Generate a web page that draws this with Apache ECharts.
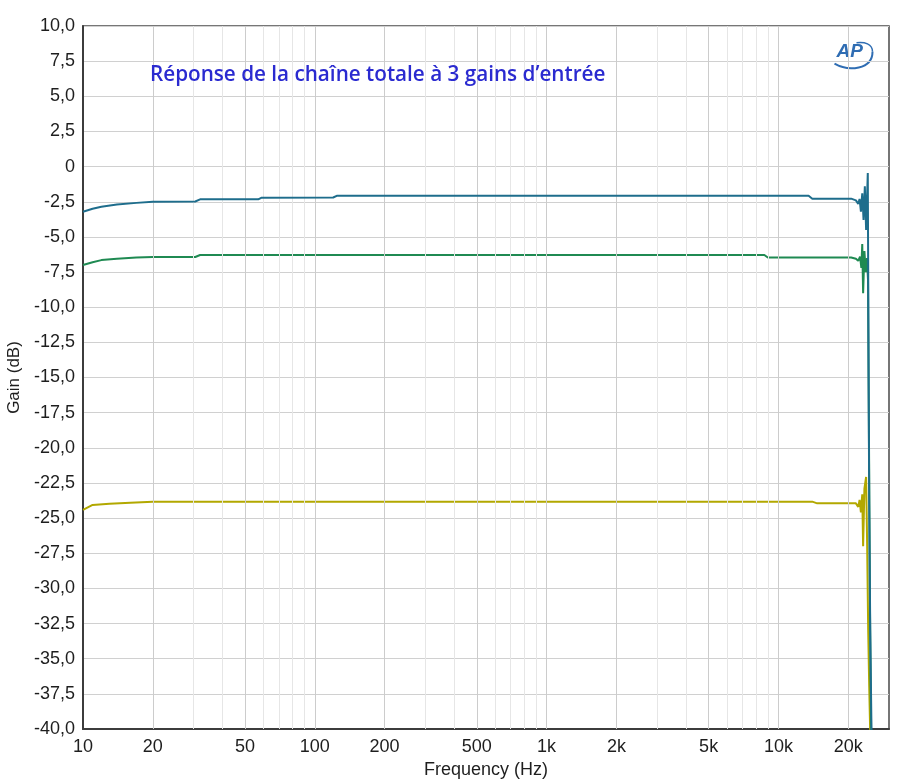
<!DOCTYPE html>
<html><head><meta charset="utf-8">
<script src="https://cdn.jsdelivr.net/npm/echarts@6/dist/echarts.min.js"></script>
<style>html,body{margin:0;padding:0;background:#fff}#c{width:900px;height:780px}</style>
</head><body><div id="c"></div>
<script>
// ---- data ----
const xTicks = [10,20,50,100,200,500,1000,2000,5000,10000,20000];
const xTickLabels = ['10','20','50','100','200','500','1k','2k','5k','10k','20k'];
const xMinorGrid = [30,40,60,70,80,90,300,400,600,700,800,900,3000,4000,6000,7000,8000,9000];

const freqTeal = [10,11,12,14,17,20,30.5,32,57,59,120,125,13500,14000,20600,21600,22100,22400,22700,23000,23300,23600,23900,24300,24500,24650,24900,25250];
const gainTeal = [-3.21,-3.0,-2.85,-2.7,-2.58,-2.5,-2.48,-2.33,-2.33,-2.21,-2.2,-2.07,-2.07,-2.28,-2.28,-2.4,-2.65,-2.3,-3.2,-1.9,-3.8,-1.4,-4.5,-0.45,-15,-24,-33,-41];

const freqGreen = [10,11,12,14,17,20,30.5,32,8700,9000,20600,21600,22100,22500,22800,23000,23200,23500,23800,24100,24350,24600,24850,25150];
const gainGreen = [-7.0,-6.8,-6.65,-6.55,-6.47,-6.43,-6.43,-6.29,-6.29,-6.47,-6.47,-6.55,-6.7,-6.4,-7.2,-5.5,-9.0,-6.0,-7.5,-6.5,-8,-20,-32,-41];

const freqYellow = [10,11,13,16,20,14000,14700,21600,22100,22400,22700,23000,23200,23500,23900,24150,24400,24650,24950];
const gainYellow = [-24.42,-24.06,-23.98,-23.9,-23.83,-23.83,-23.95,-23.95,-24.2,-23.7,-24.6,-23.3,-27.0,-22.9,-22.07,-27,-33,-37,-41];

const titleText = 'Réponse de la chaîne totale à 3 gains d’entrée';

function pairs(xs, ys){ return xs.map((x,i)=>[x, ys[i]]); }

const FONT = 'Liberation Sans, Arial, sans-serif';
const chart = echarts.init(document.getElementById('c'));
const gridLines = [];
xMinorGrid.forEach(v=>gridLines.push({xAxis:v, lineStyle:{color:'#e6e6e6', width:1, type:'solid'}}));
xTicks.slice(1).forEach(v=>gridLines.push({xAxis:v, lineStyle:{color:'#cccccc', width:1, type:'solid'}}));

chart.setOption({
  animation:false,
  grid:{left:83,right:11,top:26,bottom:51,show:true,borderColor:'#4a4a4a',borderWidth:1.5,backgroundColor:'#fff',outerBoundsMode:'none',containLabel:false},
  xAxis:{
    type:'log', logBase:10, min:10, max:30000,
    axisLine:{onZero:false, lineStyle:{color:'#3c3c3c', width:2}},
    axisTick:{show:false},
    splitLine:{show:false},
    axisLabel:{
      customValues:xTicks,
      formatter:function(v){
        let best=0, bd=Infinity;
        xTicks.forEach((t,i)=>{const d=Math.abs(Math.log10(t)-Math.log10(v)); if(d<bd){bd=d;best=i;}});
        return xTickLabels[best];
      },
      color:'#1e1e1e', fontSize:18, fontFamily:FONT, margin:9
    },
    name:'Frequency (Hz)', nameLocation:'middle', nameGap:32,
    nameTextStyle:{color:'#1e1e1e', fontSize:18, fontFamily:FONT}
  },
  yAxis:{
    type:'value', min:-40, max:10, interval:2.5,
    axisLine:{show:true, onZero:false, lineStyle:{color:'#3c3c3c', width:2}},
    axisTick:{show:false},
    splitLine:{show:true, lineStyle:{color:'#d0d0d0', width:1}},
    axisLabel:{
      formatter:function(v){ if(Math.abs(v)<1e-9) return '0'; return v.toFixed(1).replace('.',','); },
      color:'#1e1e1e', fontSize:18, fontFamily:FONT, margin:8
    },
    name:'Gain (dB)', nameLocation:'middle', nameGap:58, nameRotate:90,
    nameTextStyle:{color:'#1e1e1e', fontSize:17, fontFamily:FONT}
  },
  series:[
    {type:'line', data:[], silent:true, z:1,
     markLine:{silent:true, symbol:'none', label:{show:false}, animation:false, data:gridLines}},
    {type:'line', name:'low', data:pairs(freqYellow,gainYellow), showSymbol:false, symbol:'none', z:3,
     lineStyle:{color:'#b2a800', width:2}},
    {type:'line', name:'mid', data:pairs(freqGreen,gainGreen), showSymbol:false, symbol:'none', z:4,
     lineStyle:{color:'#1f8a52', width:2}},
    {type:'line', name:'high', data:pairs(freqTeal,gainTeal), showSymbol:false, symbol:'none', z:5,
     lineStyle:{color:'#1e6d8c', width:2}}
  ],
  graphic:[
    {type:'text', left:150, top:65, z:10,
     style:{text:titleText, fill:'#2a2ad0', font:'600 20.7px "Open Sans", sans-serif'}},
    {type:'group', left:832, top:40, z:10, children:[
      {type:'text', x:2, y:1, style:{text:'AP', fill:'#2f6db3', font:'italic bold 19px "Liberation Sans", Arial, sans-serif'}},
      {type:'bezierCurve', shape:{x1:0,y1:22,cpx1:14,cpy1:30,cpx2:38,cpy2:28,x2:38,y2:10}, style:{stroke:'#2f6db3', lineWidth:2, fill:null}},
      {type:'bezierCurve', shape:{x1:38,y1:10,cpx1:38,cpy1:2,cpx2:30,cpy2:0,x2:22,y2:1}, style:{stroke:'#2f6db3', lineWidth:1.5, fill:null}}
    ]}
  ]
});
</script></body></html>
